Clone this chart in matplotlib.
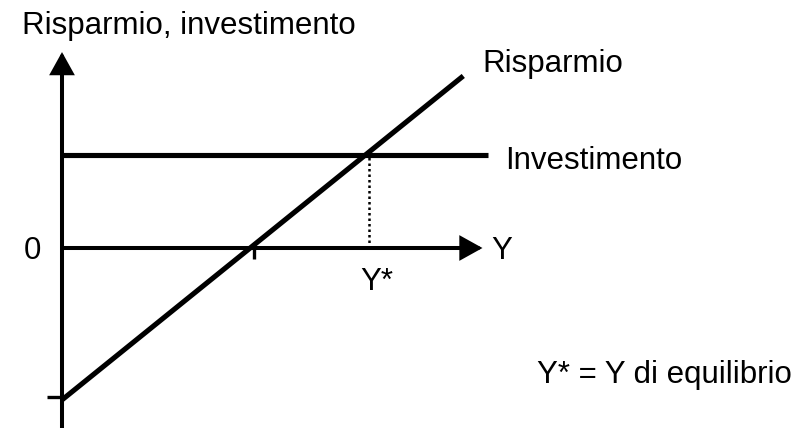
import matplotlib
matplotlib.use("Agg")
import matplotlib.pyplot as plt

# ---- data (arbitrary units) ----
income_line = [0.0, 10.45]          # Y values at ends of saving line
saving_line = [-4.9, 5.55]          # saving at those Y values
investment_level = 3.0
investment_span = [0.0, 11.1]
y_star = 8.0
y_zero_saving = 5.0
saving_intercept_tick = -4.8
x_axis_end = 10.95
y_axis_end = 6.32

labels = {
    "yaxis": "Risparmio, investimento",
    "saving": "Risparmio",
    "invest": "Investimento",
    "zero": "0",
    "x": "Y",
    "ystar": "Y*",
    "note": "Y* = Y di equilibrio",
}

plt.rcParams['font.family'] = ['Liberation Sans', 'DejaVu Sans']
FS = 22.5

fig = plt.figure(figsize=(8.02, 4.28), dpi=100)
ax = fig.add_axes([0, 0, 1, 1])
ax.set_xlim(-62 / 38.4, (802 - 62) / 38.4)
ax.set_ylim(-(428 - 248) / 31.0, 248 / 31.0)
ax.axis('off')

ylo = ax.get_ylim()[0]

# axes with arrows
arrow = dict(arrowstyle='-|>,head_length=0.36,head_width=0.2', mutation_scale=34,
             lw=2.9, color='black', shrinkA=0, shrinkB=0, joinstyle='miter')
ax.annotate('', xy=(0, y_axis_end), xytext=(0, ylo), arrowprops=arrow)
ax.annotate('', xy=(x_axis_end, 0), xytext=(0, 0), arrowprops=arrow)

# ticks
ax.plot([y_zero_saving, y_zero_saving], [0, -0.37], color='black', lw=2.4,
        solid_capstyle='butt')
ax.plot([-0.4, 0], [saving_intercept_tick, saving_intercept_tick], color='black',
        lw=2.4, solid_capstyle='butt')

# investment line
ax.plot(investment_span, [investment_level, investment_level], color='black',
        lw=3.7, solid_capstyle='butt')
# saving line
ax.plot(income_line, saving_line, color='black', lw=3.7, solid_capstyle='butt')
# dotted line
ax.plot([y_star, y_star], [0, investment_level], color='black', lw=1.8,
        linestyle=(0, (1, 1.2)))

# labels
ax.text(-1.04, 6.9, labels["yaxis"], fontsize=FS, ha='left', va='baseline')
ax.text(10.94, 5.68, labels["saving"], fontsize=FS, ha='left', va='baseline')
ax.text(11.54, 2.55, labels["invest"], fontsize=FS, ha='left', va='baseline')
ax.text(-0.77, -0.355, labels["zero"], fontsize=FS, ha='center', va='baseline')
ax.text(11.17, -0.355, labels["x"], fontsize=FS, ha='left', va='baseline')
ax.text(7.76, -1.355, labels["ystar"], fontsize=FS, ha='left', va='baseline')
ax.text(12.37, -4.35, labels["note"], fontsize=FS, ha='left', va='baseline')

fig.savefig('out.png', dpi=100)
